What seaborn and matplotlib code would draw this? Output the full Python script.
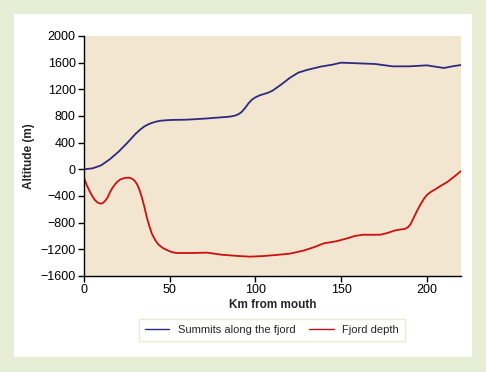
import pandas as pd
import matplotlib.pyplot as plt
import matplotlib.patches as mpatches
import seaborn as sns

# summits along the fjord (km from mouth, altitude m)
summit_km = [0, 5, 10, 15, 20, 25, 27.5, 30, 32.5, 35, 37.5, 40, 42.5, 45, 50, 60, 70, 80,
             85, 88, 90, 92, 94, 96, 98, 100, 102.5, 105, 107.5, 110, 115, 120, 125, 130,
             138, 145, 150, 160, 170, 180, 190, 200, 205, 210, 215, 220]
summit_alt = [0, 15, 60, 150, 260, 390, 460, 530, 590, 640, 675, 700, 718, 730, 740, 745,
              760, 780, 790, 805, 825, 860, 920, 990, 1045, 1080, 1110, 1130, 1150, 1180,
              1270, 1370, 1450, 1490, 1540, 1570, 1600, 1590, 1580, 1545, 1545, 1560,
              1540, 1520, 1545, 1565]

# fjord depth
depth_km = [0, 1.5, 3.5, 5, 6.5, 8, 9.8, 11, 12.3, 13.8, 15.2, 16.7, 18.1, 19.5, 21, 23,
            25, 26.5, 28, 29.5, 31, 32.3, 33.7, 35.2, 36.6, 38.1, 39.6, 41.5, 43.5, 46,
            48.3, 51, 54, 62, 72, 80, 90, 97, 105, 112, 120, 128, 134, 140, 147, 153, 158,
            163, 168, 173, 177, 181, 184, 187, 189, 190.6, 192.5, 194.5, 196.5, 198.4,
            200.3, 202.3, 205, 208, 212, 216, 220]
depth_alt = [-125, -230, -340, -410, -465, -500, -515, -505, -475, -420, -340, -275, -225,
             -185, -155, -135, -125, -127, -140, -170, -225, -305, -415, -560, -715, -850,
             -965, -1060, -1130, -1180, -1210, -1240, -1255, -1255, -1250, -1280, -1300,
             -1310, -1300, -1285, -1265, -1220, -1170, -1110, -1080, -1040, -1000, -980,
             -982, -980, -955, -920, -905, -895, -870, -820, -720, -615, -520, -440, -380,
             -340, -300, -250, -190, -110, -25]

labels = ["Summits along the fjord", "Fjord depth"]
colors = ["#2d2a80", "#cc1010"]

df = pd.concat([
    pd.DataFrame({"km": summit_km, "alt": summit_alt, "series": labels[0]}),
    pd.DataFrame({"km": depth_km, "alt": depth_alt, "series": labels[1]}),
])

sns.set_style("ticks")
plt.rcParams["font.family"] = ["Liberation Sans", "DejaVu Sans"]

fig = plt.figure(figsize=(4.86, 3.72), dpi=100, facecolor="#e6efd6")
# white panel
fig.patches.append(mpatches.Rectangle((14 / 486, 1 - 357 / 372), 458 / 486, 343 / 372,
                                      transform=fig.transFigure, facecolor="white",
                                      edgecolor="none", zorder=-5))

ax = fig.add_axes([84 / 486, 1 - 276 / 372, 377 / 486, 240 / 372])
ax.set_zorder(2)
ax.set_facecolor("#f2e6d0")

sns.lineplot(data=df, x="km", y="alt", hue="series", palette=dict(zip(labels, colors)),
             sort=False, estimator=None, linewidth=1.3, ax=ax, legend=False)

ax.set_xlim(0, 220)
ax.set_ylim(-1600, 2000)
ax.set_xticks([0, 50, 100, 150, 200])
ax.set_yticks(range(-1600, 2001, 400))
ax.set_yticklabels([str(v).replace("-", "\u2212") for v in range(-1600, 2001, 400)])
ax.tick_params(labelsize=9, length=4, width=1, color="black", labelcolor="black", pad=2)
for side in ["top", "right"]:
    ax.spines[side].set_visible(False)
for side in ["left", "bottom"]:
    ax.spines[side].set_color("black")
    ax.spines[side].set_linewidth(1)

ax.set_xlabel("Km from mouth", fontsize=8.5, fontweight="bold", labelpad=2)
ax.set_ylabel("Altitude (m)", fontsize=8.5, fontweight="bold", labelpad=4)

handles = [plt.Line2D([], [], color=c, linewidth=1.0) for c in colors]
leg = fig.legend(handles, labels, loc="center", bbox_to_anchor=(272 / 486, 1 - 330 / 372),
                 ncol=2, fontsize=8, frameon=True, fancybox=False, handlelength=2.2,
                 columnspacing=1.2, borderpad=0.5)
leg.get_frame().set_edgecolor("#e6e6c8")
leg.get_frame().set_linewidth(1)

fig.savefig("out.png", dpi=100, facecolor=fig.get_facecolor())
